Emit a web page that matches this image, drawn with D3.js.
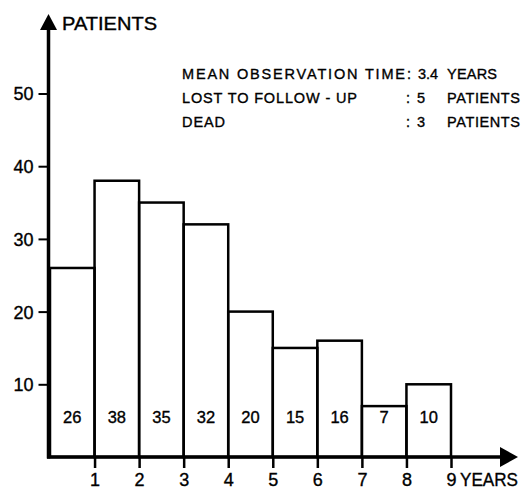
<!DOCTYPE html>
<html>
<head>
<meta charset="utf-8">
<script src="https://cdn.jsdelivr.net/npm/d3@7"></script>
<style>
  html, body { margin: 0; padding: 0; background: #fff; }
  svg { display: block; }
  text { font-family: "Liberation Sans", Arial, sans-serif; fill: #000; stroke: #000; stroke-width: 0.35px; }
</style>
</head>
<body>
<svg id="chart" width="525" height="489"></svg>
<script>
// Patients per year of observation
const yearStarts = [0, 1, 2, 3, 4, 5, 6, 7, 8];
const patientCounts = [26, 38, 35, 32, 20, 15, 16, 7, 10];
const xTickValues = [1, 2, 3, 4, 5, 6, 7, 8, 9];
const yTickValues = [10, 20, 30, 40, 50];
const yAxisTitle = "PATIENTS";
const xAxisTitle = "YEARS";

// Summary notes in the upper right
const noteLabels = ["MEAN OBSERVATION TIME", "LOST TO FOLLOW - UP", "DEAD"];
const noteValues = ["3.4", "5", "3"];
const noteUnits = ["YEARS", "PATIENTS", "PATIENTS"];

const svg = d3.select("#chart");

const x = d3.scaleLinear().domain([0, 9]).range([50, 451]);
const y = d3.scaleLinear().domain([0, 50]).range([457, 93.5]);

// Bars
const barData = yearStarts.map((s, i) => ({ s, v: patientCounts[i] }));
const bars = svg.append("g");
bars.selectAll("rect")
  .data(barData)
  .join("rect")
  .attr("x", d => x(d.s))
  .attr("width", d => x(d.s + 1) - x(d.s))
  .attr("y", d => y(d.v))
  .attr("height", d => y(0) - y(d.v))
  .attr("fill", "none")
  .attr("stroke", "#000")
  .attr("stroke-width", 2.5);

// Count labels inside the bars
bars.selectAll("text")
  .data(barData)
  .join("text")
  .attr("x", d => x(d.s + 0.5))
  .attr("y", 423)
  .attr("text-anchor", "middle")
  .attr("font-size", 16.5)
  .text(d => d.v);

// Y axis with arrow
const yAxis = d3.axisLeft(y).tickValues(yTickValues).tickSize(10).tickPadding(5);
const gy = svg.append("g").attr("transform", `translate(${x(0) - 1.5},0)`).call(yAxis);
gy.select(".domain").remove();
gy.selectAll(".tick line").attr("stroke", "#000").attr("stroke-width", 2);
gy.selectAll(".tick text")
  .attr("font-size", 18)
  .attr("font-family", "Liberation Sans, Arial, sans-serif")
  .attr("dy", "0.36em");

svg.append("line")
  .attr("x1", x(0) - 1.5).attr("x2", x(0) - 1.5)
  .attr("y1", y(0) + 1.5).attr("y2", 28)
  .attr("stroke", "#000").attr("stroke-width", 3.5);
svg.append("path")
  .attr("d", `M${x(0) - 1.5},14 L${x(0) - 10},30 L${x(0) + 7},30 Z`)
  .attr("fill", "#000");
svg.append("text")
  .attr("x", 62).attr("y", 30)
  .attr("font-size", 18)
  .attr("textLength", 95).attr("lengthAdjust", "spacingAndGlyphs")
  .text(yAxisTitle);

// X axis with arrow
const xAxis = d3.axisBottom(x).tickValues(xTickValues).tickSize(11).tickPadding(5);
const gx = svg.append("g").attr("transform", `translate(0,${y(0)})`).call(xAxis);
gx.select(".domain").remove();
gx.selectAll(".tick line").attr("stroke", "#000").attr("stroke-width", 2.5);
gx.selectAll(".tick text")
  .attr("font-size", 18)
  .attr("font-family", "Liberation Sans, Arial, sans-serif")
  .attr("dy", "0.71em");

svg.append("line")
  .attr("x1", x(0) - 3).attr("x2", 502)
  .attr("y1", y(0)).attr("y2", y(0))
  .attr("stroke", "#000").attr("stroke-width", 3.5);
svg.append("path")
  .attr("d", `M518,${y(0)} L500,${y(0) - 10} L500,${y(0) + 10} Z`)
  .attr("fill", "#000");
svg.append("text")
  .attr("x", 460).attr("y", 486)
  .attr("font-size", 18)
  .attr("textLength", 58).attr("lengthAdjust", "spacingAndGlyphs")
  .text(xAxisTitle);

// Summary notes
const notes = svg.append("g").attr("font-size", 14.5);
const noteBase = [79, 103, 127];
const labelWidths = [223, 175, 43];
noteLabels.forEach((label, i) => {
  notes.append("text")
    .attr("x", 182).attr("y", noteBase[i])
    .attr("textLength", labelWidths[i]).attr("lengthAdjust", "spacing")
    .text(label);
  notes.append("text").attr("x", i === 0 ? 407 : 406).attr("y", noteBase[i]).text(":");
  notes.append("text")
    .attr("x", i === 0 ? 418 : 417).attr("y", noteBase[i])
    .text(noteValues[i]);
  notes.append("text")
    .attr("x", 447).attr("y", noteBase[i])
    .attr("textLength", i === 0 ? 50 : 73).attr("lengthAdjust", "spacing")
    .text(noteUnits[i]);
});
</script>
</body>
</html>
